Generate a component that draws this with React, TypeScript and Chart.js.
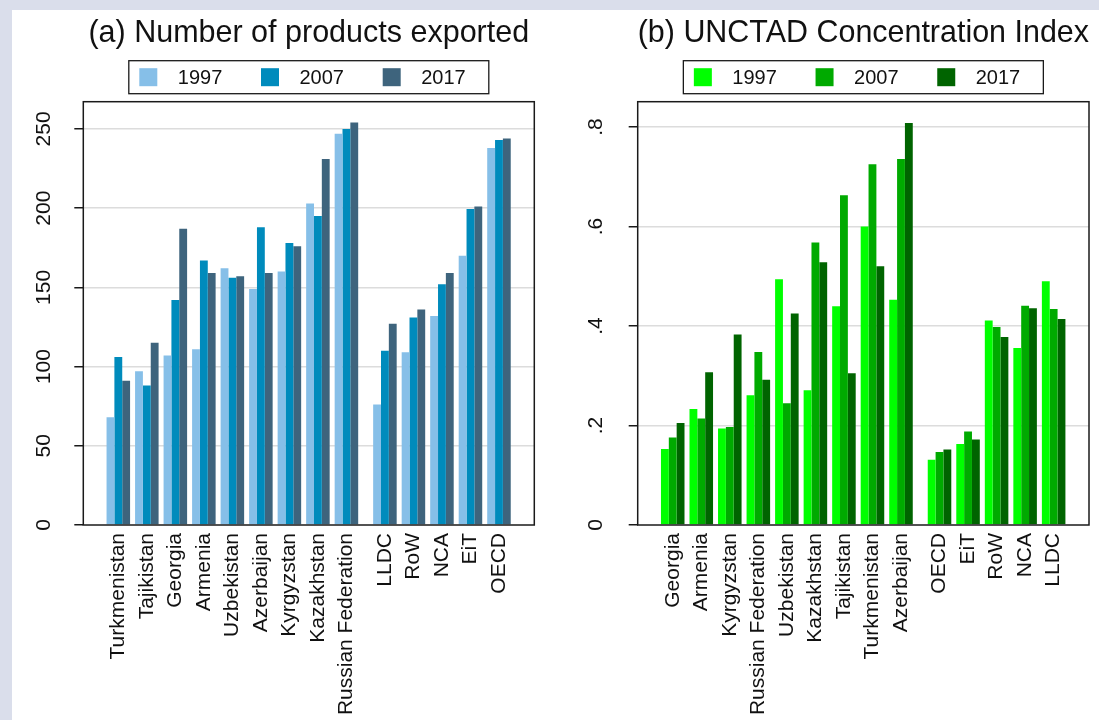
import React, { useEffect, useRef } from 'react';
import { Chart, registerables } from 'chart.js';
Chart.register(...registerables);

const FONT = "'Liberation Sans', Arial, Helvetica, sans-serif";

// ---------- data ----------
const years = ['1997', '2007', '2017'];

// (a) Number of products exported
const countriesA = ['Turkmenistan', 'Tajikistan', 'Georgia', 'Armenia', 'Uzbekistan', 'Azerbaijan', 'Kyrgyzstan', 'Kazakhstan', 'Russian Federation'];
const groupsA = ['LLDC', 'RoW', 'NCA', 'EiT', 'OECD'];
const a1997 = [68, 97, 107, 111, 162, 149, 160, 203, 247, 76, 109, 132, 170, 238];
const a2007 = [106, 88, 142, 167, 156, 188, 178, 195, 250, 110, 131, 152, 199.5, 243];
const a2017 = [91, 115, 187, 159, 157, 159, 176, 231, 254, 127, 136, 159, 201, 244];
const yTicksA = [0, 50, 100, 150, 200, 250];
const yLabelsA = ['0', '50', '100', '150', '200', '250'];

// (b) UNCTAD Concentration Index
const countriesB = ['Georgia', 'Armenia', 'Kyrgyzstan', 'Russian Federation', 'Uzbekistan', 'Kazakhstan', 'Tajikistan', 'Turkmenistan', 'Azerbaijan'];
const groupsB = ['OECD', 'EiT', 'RoW', 'NCA', 'LLDC'];
const b1997 = [0.153, 0.233, 0.194, 0.261, 0.494, 0.271, 0.440, 0.600, 0.453, 0.131, 0.163, 0.411, 0.356, 0.490];
const b2007 = [0.176, 0.214, 0.197, 0.348, 0.245, 0.568, 0.663, 0.725, 0.736, 0.147, 0.188, 0.398, 0.441, 0.434];
const b2017 = [0.205, 0.307, 0.383, 0.292, 0.425, 0.528, 0.305, 0.520, 0.808, 0.152, 0.172, 0.378, 0.436, 0.414];
const yTicksB = [0, 0.2, 0.4, 0.6, 0.8];
const yLabelsB = ['0', '.2', '.4', '.6', '.8'];

// ---------- styling ----------
const colorsA = ['#86bfe8', '#008bbc', '#3e647d'];
const colorsB = ['#00ff00', '#00aa00', '#006400'];
const GROUP_GAP = 0.35;

const framePlugin = {
  id: 'frame',
  afterDatasetsDraw(chart: any) {
    const { ctx, chartArea: a } = chart;
    ctx.save();
    ctx.strokeStyle = '#1a1a1a';
    ctx.lineWidth = 1.5;
    ctx.strokeRect(a.left, a.top, a.right - a.left, a.bottom - a.top);
    ctx.restore();
  },
};

const boxLegendPlugin = {
  id: 'boxLegend',
  afterDraw(chart: any) {
    const { ctx, chartArea: a } = chart;
    const cx = (a.left + a.right) / 2;
    const w = 360;
    const h = 33;
    const left = cx - w / 2;
    const top = a.top - 41;
    ctx.save();
    ctx.strokeStyle = '#1a1a1a';
    ctx.lineWidth = 1.3;
    ctx.strokeRect(left, top, w, h);
    ctx.font = `20px ${FONT}`;
    ctx.textBaseline = 'middle';
    ctx.textAlign = 'left';
    chart.data.datasets.forEach((ds: any, i: number) => {
      const sx = left + 10.5 + i * 121.7;
      ctx.fillStyle = ds.backgroundColor;
      ctx.fillRect(sx, top + (h - 18) / 2, 18, 18);
      ctx.fillStyle = '#111';
      ctx.fillText(ds.label, sx + 38.5, top + h / 2 + 1);
    });
    ctx.restore();
  },
};

function makeConfig(
  title: string,
  countries: string[],
  groups: string[],
  series: number[][],
  colors: string[],
  yTicks: number[],
  yLabels: string[],
  yMax: number,
  tickPad: number,
  yAxisWidth: number,
  padRight: number
) {
  const cats = [...countries, ...groups];
  const xs = cats.map((_, i) => (i < countries.length ? i : i + GROUP_GAP));
  return {
    type: 'bar',
    data: {
      datasets: series.map((vals, k) => ({
        label: years[k],
        data: vals.map((v, i) => ({ x: xs[i], y: v })),
        backgroundColor: colors[k],
        borderWidth: 0,
        categoryPercentage: 0.825,
        barPercentage: 1,
      })),
    },
    options: {
      responsive: false,
      animation: false,
      devicePixelRatio: 1,
      layout: { padding: { left: 0, right: padRight, top: 0, bottom: 0 } },
      plugins: {
        legend: { display: false },
        tooltip: { enabled: false },
        title: {
          display: true,
          text: title,
          fullSize: false,
          color: '#111',
          font: { family: FONT, size: 30.5, weight: 'normal' },
          padding: { top: 5, bottom: 50.1 },
        },
      },
      scales: {
        x: {
          type: 'linear',
          offset: false,
          min: -1.228,
          max: xs[xs.length - 1] + 1.239,
          grid: { display: false, drawTicks: false },
          border: { display: false },
          afterBuildTicks: (s: any) => {
            s.ticks = xs.map((v) => ({ value: v }));
          },
          afterFit: (s: any) => {
            s.height = 195;
            s.paddingLeft = 0;
            s.paddingRight = 0;
          },
          ticks: {
            autoSkip: false,
            minRotation: 90,
            maxRotation: 90,
            padding: 8,
            color: '#111',
            font: { family: FONT, size: 21 },
            callback: (_v: any, i: number) => cats[i],
          },
        },
        y: {
          min: 0,
          max: yMax,
          afterBuildTicks: (s: any) => {
            s.ticks = yTicks.map((v) => ({ value: v }));
          },
          afterFit: (s: any) => {
            s.width = yAxisWidth;
            s.paddingTop = 0;
            s.paddingBottom = 0;
          },
          grid: {
            color: (c: any) => (c.tick && c.tick.value === 0 ? 'rgba(0,0,0,0)' : '#dcdcdc'),
            lineWidth: 1.5,
            tickColor: '#1a1a1a',
            tickLength: 9,
            drawTicks: true,
          },
          border: { display: false },
          ticks: {
            minRotation: 90,
            maxRotation: 90,
            crossAlign: 'center',
            padding: tickPad,
            color: '#111',
            font: { family: FONT, size: 21 },
            callback: (_v: any, i: number) => yLabels[i],
          },
        },
      },
    },
    plugins: [framePlugin, boxLegendPlugin],
  };
}

function ChartCanvas({ config, width, height, left }: any) {
  const ref = useRef<HTMLCanvasElement | null>(null);
  useEffect(() => {
    const chart = new Chart(ref.current as HTMLCanvasElement, config as any);
    return () => chart.destroy();
  }, []);
  return (
    <canvas
      ref={ref}
      width={width}
      height={height}
      style={{ position: 'absolute', left, top: 0, width, height, display: 'block' }}
    />
  );
}

export default function App() {
  const cfgA = makeConfig(
    '(a) Number of products exported',
    countriesA,
    groupsA,
    [a1997, a2007, a2017],
    colorsA,
    yTicksA,
    yLabelsA,
    267.2,
    13,
    71.3,
    37.7
  );
  const cfgB = makeConfig(
    '(b) UNCTAD Concentration Index',
    countriesB,
    groupsB,
    [b1997, b2007, b2017],
    colorsB,
    yTicksB,
    yLabelsB,
    0.851,
    24,
    65.7,
    10
  );
  return (
    <div style={{ position: 'fixed', left: 0, top: 0, width: 1099, height: 720, background: '#dadeeb', overflow: 'hidden' }}>
      <div style={{ position: 'absolute', left: 12, top: 10, width: 1087, height: 710, background: '#ffffff' }}>
        <ChartCanvas config={cfgA} width={560} height={710} left={0} />
        <ChartCanvas config={cfgB} width={527} height={710} left={560} />
      </div>
    </div>
  );
}
